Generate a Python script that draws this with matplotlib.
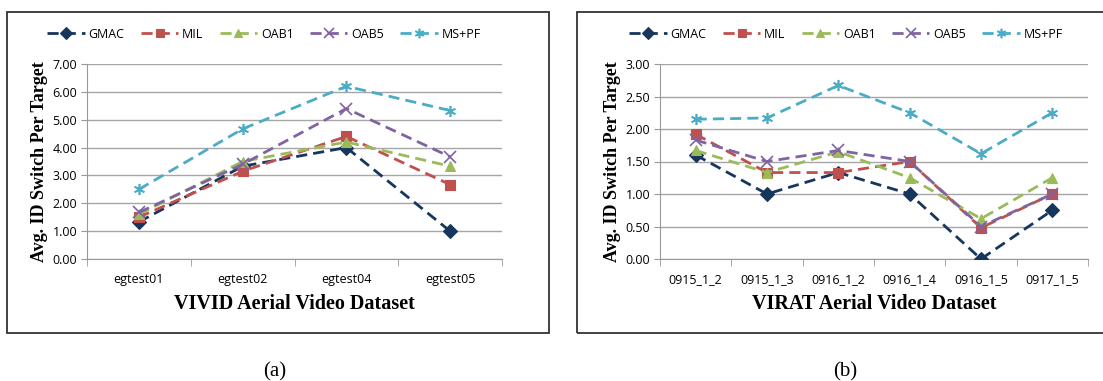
import matplotlib
matplotlib.use("Agg")
import matplotlib.pyplot as plt
from matplotlib.patches import Rectangle

series_names = ["GMAC", "MIL", "OAB1", "OAB5", "MS+PF"]
colors = ["#17365D", "#C0504D", "#9BBB59", "#8064A2", "#4BACC6"]
markers = ["D", "s", "^", "x", (6, 2, 0)]

# (a) VIVID
vivid_labels = ["egtest01", "egtest02", "egtest04", "egtest05"]
vivid_gmac = [1.33, 3.33, 4.00, 1.00]
vivid_mil = [1.50, 3.15, 4.40, 2.67]
vivid_oab1 = [1.60, 3.50, 4.20, 3.33]
vivid_oab5 = [1.67, 3.40, 5.40, 3.67]
vivid_mspf = [2.50, 4.67, 6.20, 5.33]

# (b) VIRAT
virat_labels = ["0915_1_2", "0915_1_3", "0916_1_2", "0916_1_4", "0916_1_5", "0917_1_5"]
virat_gmac = [1.60, 1.00, 1.33, 1.00, 0.00, 0.75]
virat_mil = [1.92, 1.33, 1.33, 1.50, 0.48, 1.00]
virat_oab1 = [1.67, 1.33, 1.65, 1.25, 0.62, 1.25]
virat_oab5 = [1.83, 1.50, 1.67, 1.50, 0.50, 1.00]
virat_mspf = [2.15, 2.17, 2.67, 2.25, 1.62, 2.25]

W, H = 1103, 381
fig = plt.figure(figsize=(W / 100, H / 100), dpi=100)

tick_font = "Open Sans"
serif = "Liberation Serif"


def draw_panel(box, axbox, labels, data, ymax, step, xlabel, tag, tagx, legx):
    # frame around panel
    x0, y0, x1, y1 = box
    fig.add_artist(Rectangle((x0 / W, 1 - y1 / H), (x1 - x0) / W, (y1 - y0) / H,
                             transform=fig.transFigure, fill=False,
                             edgecolor="#333333", linewidth=1.3))
    l, t, r, b = axbox
    ax = fig.add_axes([l / W, 1 - b / H, (r - l) / W, (b - t) / H])
    x = list(range(len(labels)))
    for vals, name, c, m in zip(data, series_names, colors, markers):
        thin = m == "x" or isinstance(m, tuple)
        ax.plot(x, vals, linestyle=(0, (4, 2.2)), color=c, linewidth=2,
                marker=m, markersize=8 if thin else 7,
                markeredgewidth=1.2 if thin else 0.8,
                label=name, zorder=3)
    ax.set_xlim(-0.5, len(labels) - 0.5)
    ax.set_ylim(0, ymax)
    yt = [i * step for i in range(int(round(ymax / step)) + 1)]
    ax.set_yticks(yt)
    ax.set_yticklabels(["%.2f" % v for v in yt], fontsize=9, family=tick_font)
    ax.set_xticks(x)
    ax.set_xticklabels(labels, fontsize=9, family=tick_font)
    ax.set_xticks([i - 0.5 for i in range(len(labels) + 1)], minor=True)
    ax.tick_params(axis="x", which="major", length=0, pad=10)
    ax.tick_params(axis="x", which="minor", length=5, color="#999999")
    ax.tick_params(axis="y", length=4, color="#999999", pad=3)
    ax.grid(axis="y", color="#A6A6A6", linewidth=1)
    ax.set_axisbelow(True)
    for s in ("top", "right"):
        ax.spines[s].set_visible(False)
    for s in ("left", "bottom"):
        ax.spines[s].set_color("#999999")
    ax.set_xlabel(xlabel, fontsize=14.5, family=serif, fontweight="bold", labelpad=6)
    ax.set_ylabel("Avg. ID Switch Per Target", fontsize=13, family=serif,
                  fontweight="bold", labelpad=3)
    ax.legend(loc="center", bbox_to_anchor=(legx / W, 1 - 34 / H),
              bbox_transform=fig.transFigure, ncol=5, frameon=False,
              handlelength=3.0, columnspacing=1.3, handletextpad=0.3,
              markerscale=0.85, prop={"family": tick_font, "size": 9})
    fig.text(tagx / W, 1 - 372 / H, tag, ha="center", va="center",
             fontsize=15, family=serif)
    return ax


draw_panel((7, 12, 549, 333), (87, 64, 502, 259),
           vivid_labels, [vivid_gmac, vivid_mil, vivid_oab1, vivid_oab5, vivid_mspf],
           7.0, 1.0, "VIVID Aerial Video Dataset", "(a)", 275, 264)
draw_panel((577, 12, 1115, 333), (660, 64, 1088, 259),
           virat_labels, [virat_gmac, virat_mil, virat_oab1, virat_oab5, virat_mspf],
           3.0, 0.5, "VIRAT Aerial Video Dataset", "(b)", 845, 846)

fig.savefig("out.png", dpi=100)
